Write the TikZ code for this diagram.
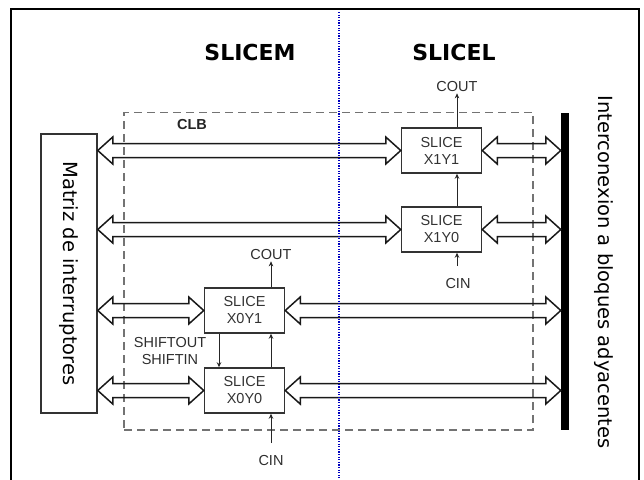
\documentclass[tikz,border=0pt]{standalone}
\usepackage{fontspec}
\setmainfont{Liberation Sans}
\newfontfamily\dejavu{DejaVu Sans}
\usetikzlibrary{calc,arrows.meta}

\tikzset{
  slicebox/.style={draw=black!80, line width=1.5pt, minimum width=80pt, minimum height=45pt,
    inner sep=0pt, align=center, font=\fontsize{14.5}{17}\selectfont, text=black!80},
  lbl/.style={font=\fontsize{14.5}{17}\selectfont, text=black!82, inner sep=1pt, align=center},
  sig/.style={draw=black!85, line width=1pt, -{Stealth[length=5pt,width=4.5pt]}},
  dblar/.style={draw=black!90, line width=1.5pt, line join=miter},
  titletxt/.style={font=\dejavu\bfseries\fontsize{22}{26}\selectfont},
  sidetxt/.style={font=\dejavu\fontsize{19.5}{23}\selectfont, rotate=-90, inner sep=0pt},
  clbbox/.style={draw=black!55, line width=1.3pt, dash pattern=on 8pt off 5pt, inner sep=0pt},
  sepline/.style={draw=blue!75!black, line width=1.3pt, dash pattern=on 1.2pt off 1.4pt}
}

\newcommand{\dblarrow}[2]{%
  \draw[dblar] let \p1=(#1), \p2=(#2) in
    (\x1,\y1) -- (\x1+15pt,\y1+13.5pt) -- (\x1+15pt,\y1+7pt) -- (\x2-15pt,\y1+7pt)
    -- (\x2-15pt,\y1+13.5pt) -- (\x2,\y1) -- (\x2-15pt,\y1-13.5pt) -- (\x2-15pt,\y1-7pt)
    -- (\x1+15pt,\y1-7pt) -- (\x1+15pt,\y1-13.5pt) -- cycle;}

\begin{document}
\begin{tikzpicture}[x=1pt,y=-1pt]
\useasboundingbox (0,0) rectangle (644,479);

% outer frame
\draw[line width=2pt] (11,495) -- (11,9) -- (639,9) -- (639,495);

% titles
\node[titletxt] (slicem) at (250,52) {SLICEM};
\node[titletxt] (slicel) at (454,52) {SLICEL};

% CLB dashed box
\node[clbbox, minimum width=409pt, minimum height=317.5pt] (clb) at (328.5,271.25) {};
\node[lbl, font=\bfseries\fontsize{14.5}{17}\selectfont, text=black!85] (clblbl) at (192,125) {CLB};

% switch matrix
\node[draw=black!80, line width=1.5pt, minimum width=56pt, minimum height=279pt, inner sep=0pt] (mat) at (69,273.5) {};
\node[sidetxt] (matlbl) at (mat.center) {Matriz de interruptores};

% interconnect bar
\node[fill=black, minimum width=8pt, minimum height=317pt, inner sep=0pt] (bar) at (565,271.5) {};
\node[sidetxt] (barlbl) at (604,272) {Interconexion a bloques adyacentes};

% slices
\node[slicebox] (s11) at (441.5,150.5) {SLICE\\X1Y1};
\node[slicebox] (s10) at (441.5,229.5) {SLICE\\X1Y0};
\node[slicebox] (s01) at (244.5,310.5) {SLICE\\X0Y1};
\node[slicebox] (s00) at (244.5,390.5) {SLICE\\X0Y0};

% double arrows
\dblarrow{mat.east |- s11.west}{s11.west}
\dblarrow{s11.east}{bar.west |- s11.east}
\dblarrow{mat.east |- s10.west}{s10.west}
\dblarrow{s10.east}{bar.west |- s10.east}
\dblarrow{mat.east |- s01.west}{s01.west}
\dblarrow{s01.east}{bar.west |- s01.east}
\dblarrow{mat.east |- s00.west}{s00.west}
\dblarrow{s00.east}{bar.west |- s00.east}

% carry / shift labels
\node[lbl] (cout1) at (457,87) {COUT};
\node[lbl] (cin1) at (458,284) {CIN};
\node[lbl] (cout0) at (271,255) {COUT};
\node[lbl] (cin0) at (271,460) {CIN};
\node[lbl] (shift) at (170,351) {SHIFTOUT\\SHIFTIN};

\coordinate (cx1) at (457,0);
\coordinate (cx0) at (271,0);
\coordinate (sx0) at (219,0);
\coordinate (cin1s) at (457,266);
\coordinate (cin0s) at (271,443);

% carry chains
\draw[sig] (s11.north -| cx1) -- (cout1.south -| cx1);
\draw[sig] (s10.north -| cx1) -- (s11.south -| cx1);
\draw[sig] (cin1s) -- (s10.south -| cx1);
\draw[sig] (s01.north -| cx0) -- (cout0.south -| cx0);
\draw[sig] (s00.north -| cx0) -- (s01.south -| cx0);
\draw[sig] (cin0s) -- (s00.south -| cx0);
\draw[sig] (s01.south -| sx0) -- (s00.north -| sx0);

% separator
\coordinate (septop) at (339,12);
\coordinate (sepbot) at (339,478);
\draw[sepline] (septop) -- (sepbot);
\end{tikzpicture}
\end{document}
